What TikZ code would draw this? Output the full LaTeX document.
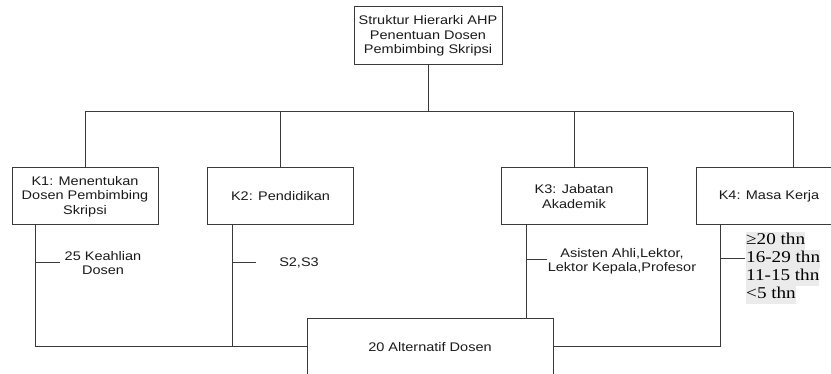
\documentclass[tikz,border=0pt]{standalone}
\usepackage{fontspec}
\setmainfont[FakeStretch=1.16]{Liberation Sans}
\newfontfamily\tmsfont[FakeStretch=1.16]{Liberation Serif}
\usetikzlibrary{calc}
\definecolor{linec}{HTML}{3A3A3A}
\definecolor{textc}{HTML}{1A1A1A}
\definecolor{hlc}{HTML}{EBEBEB}
\newcommand\hlline[1]{{\setlength\fboxsep{0pt}\colorbox{hlc}{\strut #1}}}
\tikzset{
  ln/.style={draw=linec, line width=1pt},
  boxnode/.style={draw=linec, line width=1pt, minimum width=146pt, minimum height=57pt,
    align=center, inner sep=0pt, text=textc, font=\fontsize{12.5}{14.3}\selectfont},
  lblnode/.style={align=center, inner sep=0pt, text=textc, font=\fontsize{12.5}{14.3}\selectfont},
  valnode/.style={align=left, inner sep=0pt, text=black, font=\tmsfont\fontsize{16.5}{18}\selectfont}
}
\begin{document}
\begin{tikzpicture}[x=1pt, y=-1pt]
\useasboundingbox (0,0) rectangle (831,374);
\clip (0,0) rectangle (831,374);
% nodes
\node[boxnode, minimum width=148pt, minimum height=58pt] (top) at (428,36)
  {Struktur Hierarki AHP\\Penentuan Dosen\\Pembimbing Skripsi};
\node[boxnode] (K1) at (85,196.5) {K1: Menentukan\\Dosen Pembimbing\\Skripsi};
\node[boxnode] (K2) at (280.5,196.5) {K2: Pendidikan};
\node[boxnode] (K3) at (574,196.5) {K3: Jabatan\\Akademik};
\node[boxnode] (K4) at (769,196.5) {K4: Masa Kerja};
\node[boxnode, minimum width=246pt, minimum height=56pt] (alt) at (430,347) {20 Alternatif Dosen};
\node[lblnode] (L1) at (103,263) {25 Keahlian\\Dosen};
\node[lblnode] (L2) at (299,263) {S2,S3};
\node[lblnode] (L3) at (622,261) {Asisten Ahli,Lektor,\\Lektor Kepala,Profesor};
\node[valnode, anchor=west] (V4) at (746,268)
  {\hlline{≥20 thn}\\\hlline{16-29 thn}\\\hlline{11-15 thn}\\\hlline{<5 thn}};
% coordinates
\coordinate (busL) at (85,112);
\coordinate (busR) at (793,112);
\coordinate (k4in) at (793,168);
\coordinate (d1) at ($(K1.south west)+(24,0)$);
\coordinate (d2) at ($(K2.south west)+(25,0)$);
\coordinate (d3) at ($(K3.south west)+(26,0)$);
\coordinate (d4) at ($(K4.south west)+(25,0)$);
\coordinate (v4row) at ($(V4.north west)+(0,27)$);
% upper connectors
\draw[ln] (busL) -- (busR);
\draw[ln] (top.south) -- (top.south |- busL);
\draw[ln] (K1.north) -- (K1.north |- busL);
\draw[ln] (K2.north) -- (K2.north |- busL);
\draw[ln] (K3.north) -- (K3.north |- busL);
\draw[ln] (k4in) -- (busR);
% lower connectors
\draw[ln] (d1) |- (alt.west);
\draw[ln] (d2) -- (d2 |- alt.west);
\draw[ln] (d3) -- (d3 |- alt.north);
\draw[ln] (d4) |- (alt.east);
% stubs
\draw[ln] (d1 |- L1.west) -- ++(24,0);
\draw[ln] (d2 |- L2.west) -- ++(24,0);
\draw[ln] (d3 |- 0,260) -- ++(20,0);
\draw[ln] (d4 |- v4row) -- ++(24,0);
\end{tikzpicture}
\end{document}
